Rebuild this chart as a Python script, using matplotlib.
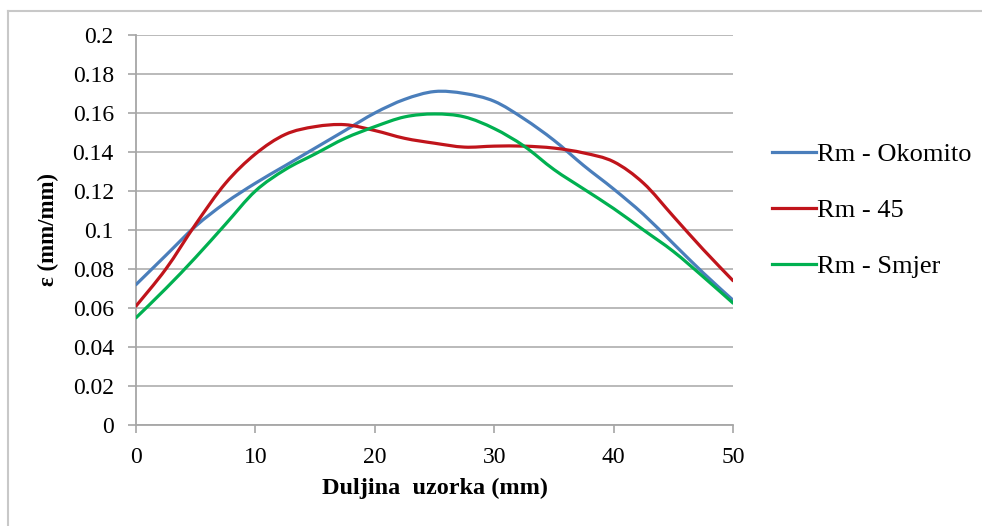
import numpy as np
import matplotlib
matplotlib.use('Agg')
import matplotlib.pyplot as plt
from matplotlib.path import Path
from matplotlib.patches import PathPatch
from matplotlib.lines import Line2D
from matplotlib.ticker import FuncFormatter

# podaci ocitani s grafa
duljina = [0, 2.5, 5, 7.5, 10, 12.5, 15, 17.5, 20, 22.5, 25, 27.5, 30,
           32.5, 35, 37.5, 40, 42.5, 45, 47.5, 50]
okomito = [0.072, 0.087, 0.102, 0.114, 0.124, 0.133, 0.142, 0.151, 0.160, 0.167,
           0.171, 0.170, 0.166, 0.157, 0.146, 0.133, 0.121, 0.108, 0.093, 0.078, 0.064]
rm45 = [0.061, 0.080, 0.103, 0.124, 0.139, 0.149, 0.153, 0.154, 0.151, 0.147,
        0.1445, 0.1425, 0.143, 0.143, 0.142, 0.1395, 0.135, 0.124, 0.107, 0.090, 0.074]
smjer = [0.055, 0.070, 0.086, 0.103, 0.120, 0.131, 0.139, 0.147, 0.153, 0.158,
         0.1595, 0.158, 0.152, 0.143, 0.131, 0.121, 0.111, 0.100, 0.089, 0.076, 0.0625]
nazivi = ['Rm - Okomito', 'Rm - 45', 'Rm - Smjer']
boje = ['#4A7EBB', '#C0141B', '#00B050']

plt.rcParams['font.family'] = ['Liberation Serif', 'DejaVu Serif']


def glatka_krivulja(x, y):
    # Excel-like smoothing: Catmull-Rom -> cubic Bezier
    x = np.asarray(x, float)
    y = np.asarray(y, float)
    verts = [(x[0], y[0])]
    codes = [Path.MOVETO]
    n = len(x)
    for i in range(n - 1):
        i0 = max(i - 1, 0)
        i3 = min(i + 2, n - 1)
        c1 = (x[i] + (x[i + 1] - x[i0]) / 6, y[i] + (y[i + 1] - y[i0]) / 6)
        c2 = (x[i + 1] - (x[i3] - x[i]) / 6, y[i + 1] - (y[i3] - y[i]) / 6)
        verts += [c1, c2, (x[i + 1], y[i + 1])]
        codes += [Path.CURVE4] * 3
    return Path(verts, codes)


fig = plt.figure(figsize=(9.82, 5.26), dpi=100)
ax = fig.add_axes([0.1385, 0.192, 0.608, 0.7415])

handles = []
for serija, boja, naziv in zip([okomito, rm45, smjer], boje, nazivi):
    p = PathPatch(glatka_krivulja(duljina, serija), fill=False, edgecolor=boja,
                  lw=2.3, capstyle='round', joinstyle='round', zorder=3)
    ax.add_patch(p)
    handles.append(Line2D([], [], color=boja, lw=2.3, label=naziv))

ax.set_xlim(0, 50)
ax.set_ylim(0, 0.2)
ax.set_xticks(np.arange(0, 51, 10))
ax.set_yticks(np.arange(0, 0.201, 0.02))
ax.yaxis.set_major_formatter(FuncFormatter(lambda v, p: '%g' % round(v, 2)))
ax.grid(axis='y', color='#b4b4b4', lw=1.3)
ax.set_axisbelow(True)
for s in ['top', 'right']:
    ax.spines[s].set_visible(False)
for s in ['left', 'bottom']:
    ax.spines[s].set_color('#a6a6a6')
    ax.spines[s].set_linewidth(1.3)
ax.tick_params(axis='both', colors='#a6a6a6', length=6, width=1.2, labelsize=17,
               labelcolor='black')
ax.tick_params(axis='y', pad=10)
ax.tick_params(axis='x', pad=10)
ax.set_xlabel('Duljina  uzorka (mm)', fontsize=17.5, fontweight='bold', labelpad=7)
ax.set_ylabel('ε (mm/mm)', fontsize=16.5, fontweight='bold', labelpad=10)

ax.legend(handles=handles, loc='center left', bbox_to_anchor=(1.0255, 0.551),
          frameon=False, fontsize=19, handlelength=1.67, handletextpad=0.05,
          labelspacing=1.23)

# okvir
fig.add_artist(Line2D([8 / 982, 1], [1 - 11 / 526, 1 - 11 / 526], color='#c8c8c8', lw=1.5))
fig.add_artist(Line2D([8 / 982, 8 / 982], [0, 1 - 11 / 526], color='#c8c8c8', lw=1.5))

fig.savefig('out.png', dpi=100)
